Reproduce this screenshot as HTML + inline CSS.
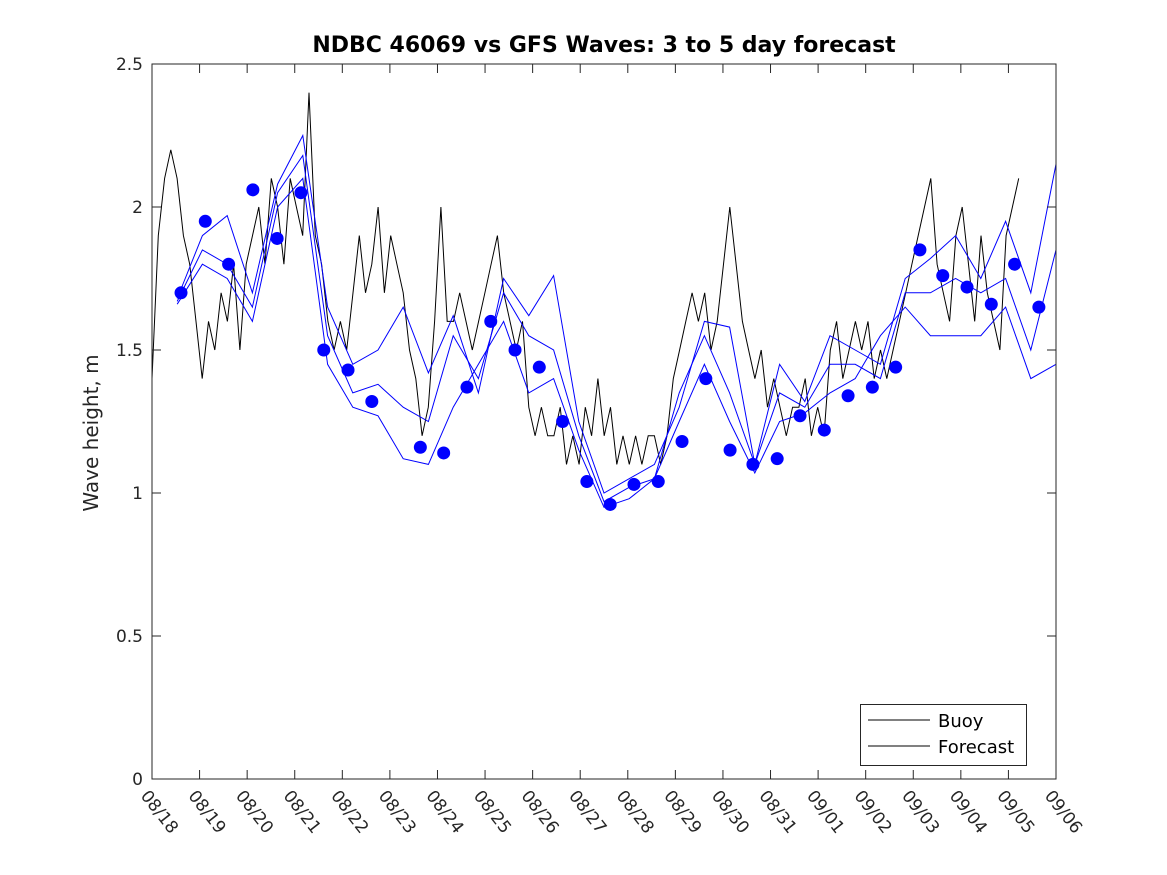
<!DOCTYPE html>
<html><head><meta charset="utf-8"><style>
html,body{margin:0;padding:0;background:#fff;}
svg{display:block;font-family:"DejaVu Sans","Liberation Sans",sans-serif;}
</style></head>
<body>
<svg id="chart" width="1167" height="875" viewBox="0 0 1167 875" xmlns="http://www.w3.org/2000/svg">
<rect x="0" y="0" width="1167" height="875" fill="#fff"/>
<text x="604" y="52" text-anchor="middle" font-size="22" font-weight="bold" fill="#000">NDBC 46069 vs GFS Waves: 3 to 5 day forecast</text>
<text transform="translate(98,433) rotate(-90)" text-anchor="middle" font-size="20" fill="#262626">Wave height, m</text>
<g id="plot"></g>
<g id="axes"></g>
<g>
<rect x="860.5" y="704.5" width="166" height="61" fill="#fff" stroke="#262626" stroke-width="1"/>
<line x1="868" y1="720" x2="930" y2="720" stroke="#000" stroke-width="1"/>
<text x="938" y="727" font-size="18" fill="#000">Buoy</text>
<line x1="868" y1="746" x2="930" y2="746" stroke="#000" stroke-width="1"/>
<text x="938" y="753" font-size="18" fill="#000">Forecast</text>
</g>
</svg>
<script>
const xTickLabels = ["08/18","08/19","08/20","08/21","08/22","08/23","08/24","08/25","08/26","08/27","08/28","08/29","08/30","08/31","09/01","09/02","09/03","09/04","09/05","09/06"];
const yTicks = [0,0.5,1,1.5,2,2.5];
const yTickLabels = ["0","0.5","1","1.5","2","2.5"];
const buoyStepDays = 0.132;
const buoy = [
1.4,1.9,2.1,2.2,2.1,1.9,1.8,1.6,
1.4,1.6,1.5,1.7,1.6,1.8,1.5,1.8,
1.9,2.0,1.8,2.1,2.0,1.8,2.1,2.0,
1.9,2.4,1.9,1.8,1.6,1.5,1.6,1.5,
1.7,1.9,1.7,1.8,2.0,1.7,1.9,1.8,
1.7,1.5,1.4,1.2,1.3,1.6,2.0,1.6,
1.6,1.7,1.6,1.5,1.6,1.7,1.8,1.9,
1.7,1.6,1.5,1.6,1.3,1.2,1.3,1.2,
1.2,1.3,1.1,1.2,1.1,1.3,1.2,1.4,
1.2,1.3,1.1,1.2,1.1,1.2,1.1,1.2,
1.2,1.1,1.2,1.4,1.5,1.6,1.7,1.6,
1.7,1.5,1.6,1.8,2.0,1.8,1.6,1.5,
1.4,1.5,1.3,1.4,1.3,1.2,1.3,1.3,
1.4,1.2,1.3,1.2,1.5,1.6,1.4,1.5,
1.6,1.5,1.6,1.4,1.5,1.4,1.5,1.6,
1.7,1.8,1.9,2.0,2.1,1.8,1.7,1.6,
1.9,2.0,1.8,1.6,1.9,1.7,1.6,1.5,
1.9,2.0,2.1];
const forecastTimes = [0.53,1.06,1.58,2.11,2.64,3.17,3.69,4.22,4.75,5.28,5.81,6.33,6.86,7.39,7.92,8.44,8.97,9.50,10.03,10.56,11.08,11.61,12.14,12.67,13.19,13.72,14.25,14.78,15.31,15.83,16.36,16.89,17.42,17.94,18.47,19.00];
const forecast1 = [1.68,1.90,1.97,1.70,2.08,2.25,1.65,1.45,1.50,1.65,1.42,1.62,1.35,1.75,1.62,1.76,1.25,1.00,1.05,1.10,1.30,1.60,1.58,1.10,1.45,1.32,1.55,1.50,1.45,1.75,1.82,1.90,1.75,1.95,1.70,2.15];
const forecast2 = [1.67,1.85,1.80,1.65,2.05,2.18,1.55,1.35,1.38,1.30,1.25,1.55,1.40,1.70,1.55,1.50,1.20,0.97,1.02,1.05,1.35,1.55,1.35,1.10,1.35,1.30,1.45,1.45,1.40,1.70,1.70,1.75,1.70,1.75,1.50,1.85];
const forecast3 = [1.66,1.80,1.75,1.60,2.00,2.10,1.45,1.30,1.27,1.12,1.10,1.30,1.45,1.60,1.35,1.40,1.15,0.95,0.98,1.05,1.25,1.45,1.25,1.07,1.25,1.28,1.35,1.40,1.55,1.65,1.55,1.55,1.55,1.65,1.40,1.45];
const dotTimes = [0.61,1.12,1.61,2.12,2.63,3.13,3.61,4.12,4.62,5.64,6.13,6.62,7.12,7.63,8.14,8.63,9.14,9.63,10.13,10.64,11.14,11.64,12.15,12.63,13.14,13.62,14.13,14.63,15.14,15.63,16.14,16.62,17.13,17.64,18.13,18.64];
const dotValues = [1.70,1.95,1.80,2.06,1.89,2.05,1.50,1.43,1.32,1.16,1.14,1.37,1.60,1.50,1.44,1.25,1.04,0.96,1.03,1.04,1.18,1.40,1.15,1.10,1.12,1.27,1.22,1.34,1.37,1.44,1.85,1.76,1.72,1.66,1.80,1.65];

const X0=152,X1=1056,Y0=779,Y1=64;
const xs = d => X0 + d*(X1-X0)/19;
const ys = v => Y0 - v*(Y0-Y1)/2.5;
const NS="http://www.w3.org/2000/svg";
const plot=document.getElementById('plot'), axes=document.getElementById('axes');
function mk(tag,attrs,parent){const e=document.createElementNS(NS,tag);for(const k in attrs)e.setAttribute(k,attrs[k]);parent.appendChild(e);return e;}

let box=mk('rect',{x:X0,y:Y1,width:X1-X0,height:Y0-Y1,fill:'none',stroke:'#262626','stroke-width':1},axes);



yTicks.forEach((v,i)=>{
  const y=ys(v);
  let t=mk('line',{x1:X0,y1:y,x2:X0+9,y2:y,stroke:'#262626'},axes);
  
  
  let t2=mk('line',{x1:X1,y1:y,x2:X1-9,y2:y,stroke:'#262626'},axes);
  
  
  let l=mk('text',{x:X0-9,y:y+6,'text-anchor':'end','font-size':17,fill:'#262626'},axes);
  l.textContent=yTickLabels[i];
  
  
});
xTickLabels.forEach((s,i)=>{
  const x=xs(i);
  let t=mk('line',{x1:x,y1:Y0,x2:x,y2:Y0-9,stroke:'#262626'},axes);
  
  
  let t2=mk('line',{x1:x,y1:Y1,x2:x,y2:Y1+9,stroke:'#262626'},axes);
  
  
  let l=mk('text',{transform:`translate(${x-12},${Y0+17}) rotate(52)`,'font-size':17,fill:'#262626'},axes);
  l.textContent=s;
  
  
});

function line(times,vals,color,name){
  const pts=vals.map((v,i)=>xs(times[i]).toFixed(1)+','+ys(v).toFixed(1)).join(' ');
  const p=mk('polyline',{points:pts,fill:'none',stroke:color,'stroke-width':1},plot);
  
  
}
const buoyTimes=buoy.map((v,i)=>i*buoyStepDays);
line(buoyTimes,buoy,'#000','buoy-line');
line(forecastTimes,forecast1,'#0000ff','forecast-line-1');
line(forecastTimes,forecast2,'#0000ff','forecast-line-2');
line(forecastTimes,forecast3,'#0000ff','forecast-line-3');
dotValues.forEach((v,i)=>{
  const c=mk('circle',{cx:xs(dotTimes[i]),cy:ys(v),r:6.5,fill:'#0000ff'},plot);
  
  
});
</script>
</body></html>
